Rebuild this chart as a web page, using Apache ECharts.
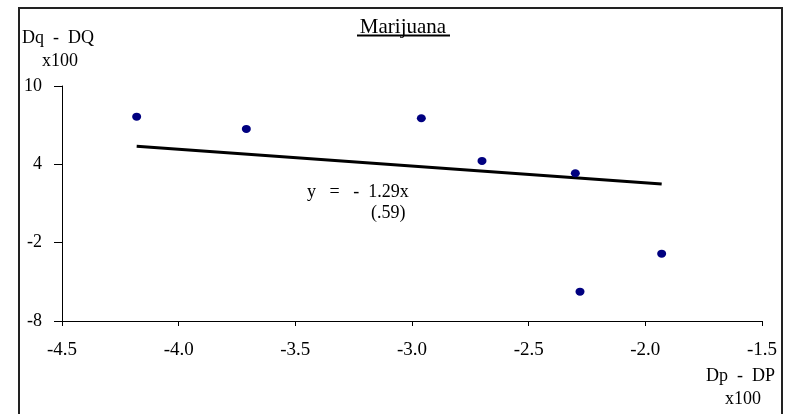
<!DOCTYPE html>
<html>
<head>
<meta charset="utf-8">
<script src="https://cdn.jsdelivr.net/npm/echarts@6/dist/echarts.min.js"></script>
<style>
  html, body { margin: 0; padding: 0; background: #fff; }
  #chart { width: 789px; height: 414px; }
</style>
</head>
<body>
<div id="chart"></div>
<script>
// Price change (x) versus quantity change (y), both x100
const dpValues = [-4.18, -3.71, -2.96, -2.70, -2.30, -2.28, -1.93];
const dqValues = [7.65, 6.71, 7.53, 4.26, 3.32, -5.75, -2.84];

// Regression through the origin and its standard error
const slope = -1.29;
const slopeSE = '(.59)';

const xTicks = [-4.5, -4.0, -3.5, -3.0, -2.5, -2.0, -1.5];
const yTicks = [-8, -2, 4, 10];

const titleText = 'Marijuana';
const yName = ['Dq  -  DQ', 'x100'];
const xName = ['Dp  -  DP', 'x100'];

const serif = '"Liberation Serif", "DejaVu Serif", serif';

const points = dpValues.map((x, i) => [x, dqValues[i]]);
const xLo = Math.min(...dpValues);
const xHi = Math.max(...dpValues);
const fitLine = [[xLo, slope * xLo], [xHi, slope * xHi]];

const chart = echarts.init(document.getElementById('chart'), null, { renderer: 'canvas' });

chart.setOption({
  animation: false,
  backgroundColor: '#fff',
  grid: { left: 62, right: 27, top: 86, bottom: 93, containLabel: false },
  xAxis: {
    type: 'value',
    min: xTicks[0],
    max: xTicks[xTicks.length - 1],
    interval: 0.5,
    axisLine: { onZero: false, lineStyle: { color: '#000', width: 1 } },
    axisTick: { show: true, inside: false, length: 5, lineStyle: { color: '#000' } },
    axisLabel: {
      color: '#000', fontFamily: serif, fontSize: 19, margin: 20,
      formatter: v => v.toFixed(1)
    },
    splitLine: { show: false }
  },
  yAxis: {
    type: 'value',
    min: yTicks[0],
    max: yTicks[yTicks.length - 1],
    axisLine: { show: true, onZero: false, lineStyle: { color: '#000', width: 1 } },
    axisTick: { show: true, inside: false, length: 8, customValues: yTicks, lineStyle: { color: '#000' } },
    axisLabel: { color: '#000', fontFamily: serif, fontSize: 18, margin: 20, customValues: yTicks },
    splitLine: { show: false }
  },
  series: [
    {
      type: 'line',
      data: fitLine,
      symbol: 'none',
      lineStyle: { color: '#000', width: 3 },
      z: 2
    },
    {
      type: 'scatter',
      data: points,
      symbol: 'circle',
      symbolSize: [9, 8],
      itemStyle: { color: '#000080', opacity: 1 },
      z: 3
    }
  ],
  graphic: [
    {
      type: 'rect',
      shape: { x: 19, y: 8, width: 763, height: 430 },
      style: { fill: 'none', stroke: '#222', lineWidth: 2 },
      silent: true
    },
    {
      type: 'text',
      x: 403, y: 27,
      style: {
        text: titleText, font: '21px ' + serif, fill: '#000',
        align: 'center', verticalAlign: 'middle'
      }
    },
    {
      type: 'line',
      shape: { x1: 357, y1: 35.5, x2: 450, y2: 35.5 },
      style: { stroke: '#000', lineWidth: 2 }
    },
    {
      type: 'text',
      x: 22, y: 38,
      style: { text: yName[0], font: '18px ' + serif, fill: '#000', align: 'left', verticalAlign: 'middle' }
    },
    {
      type: 'text',
      x: 42, y: 61,
      style: { text: yName[1], font: '18px ' + serif, fill: '#000', align: 'left', verticalAlign: 'middle' }
    },
    {
      type: 'text',
      x: 775, y: 376,
      style: { text: xName[0], font: '18px ' + serif, fill: '#000', align: 'right', verticalAlign: 'middle' }
    },
    {
      type: 'text',
      x: 761, y: 399,
      style: { text: xName[1], font: '18px ' + serif, fill: '#000', align: 'right', verticalAlign: 'middle' }
    },
    {
      type: 'text',
      x: 307, y: 192,
      style: {
        text: 'y   =   -  ' + Math.abs(slope).toFixed(2) + 'x',
        font: '18px ' + serif, fill: '#000', align: 'left', verticalAlign: 'middle'
      }
    },
    {
      type: 'text',
      x: 371, y: 213,
      style: { text: slopeSE, font: '18px ' + serif, fill: '#000', align: 'left', verticalAlign: 'middle' }
    }
  ]
});
</script>
</body>
</html>
